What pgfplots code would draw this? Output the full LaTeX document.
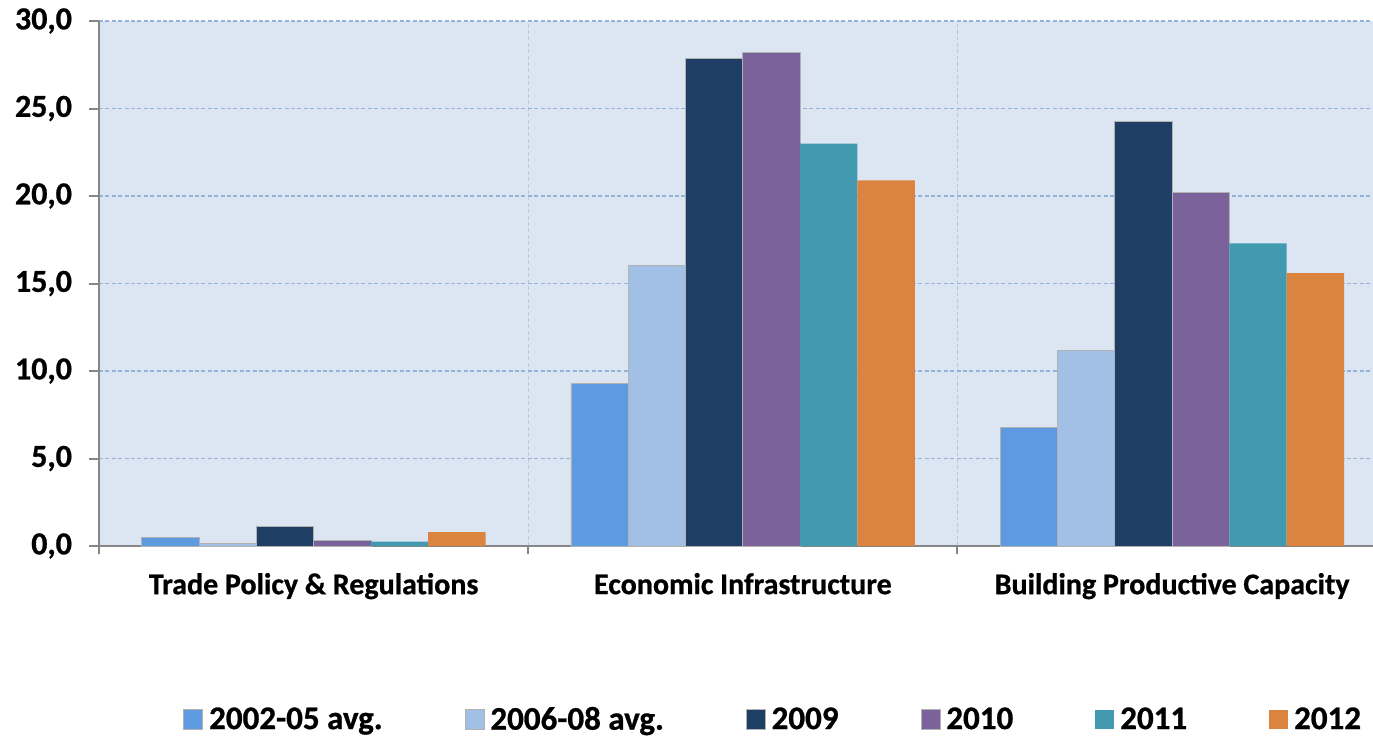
\documentclass[border=0pt]{standalone}
\usepackage{pgfplots}
\pgfplotsset{compat=1.18}
\usepackage{fontspec}
\setmainfont{Carlito}[BoldFeatures={FakeBold=0.8}]
\definecolor{cA}{HTML}{5E9AE0}
\definecolor{cB}{HTML}{A2C0E6}
\definecolor{cC}{HTML}{1F3E66}
\definecolor{cD}{HTML}{7B629A}
\definecolor{cE}{HTML}{4399B0}
\definecolor{cF}{HTML}{DB843F}
\definecolor{bg}{HTML}{DCE6F2}
\definecolor{gridc}{HTML}{95B3D7}
\definecolor{vgridc}{HTML}{B4C9E4}
\definecolor{axc}{HTML}{868686}
\begin{document}
\begin{tikzpicture}
\begin{axis}[
  name=ax,
  at={(0,0)}, anchor=south west,
  scale only axis,
  width=637pt, height=262.5pt,
  xmin=-0.5, xmax=2.468,
  ymin=0, ymax=30,
  axis background/.style={fill=bg},
  axis x line*=bottom, axis y line*=left,
  axis line style={color=axc, line width=1pt},
  ybar=0pt, bar width=0.1335,
  ytick={0,5,...,30},
  xtick={0,1,2},
  xticklabels={Trade Policy \& Regulations, Economic Infrastructure, Building Productive Capacity},
  minor xtick={-0.5,0.5,1.5},
  major x tick style={draw=none},
  minor x tick style={color=axc, line width=1pt},
  minor tick length=4pt,
  tick align=outside,
  major tick length=5pt,
  y tick style={color=axc, line width=1pt},
  ymajorgrids=true, xminorgrids=true,
  major grid style={dashed, dash pattern=on 2pt off 1.2pt, color=gridc, line width=0.6pt},
  minor grid style={dashed, dash pattern=on 2pt off 1.2pt, color=vgridc, line width=0.6pt},
  /pgf/number format/.cd, fixed, fixed zerofill, precision=1, use comma, assume math mode=true,
  /pgfplots/.cd,
  yticklabel style={font=\fontsize{16}{19}\selectfont\bfseries, xshift=-5pt},
  xticklabel style={font=\fontsize{15}{18}\selectfont\bfseries, yshift=-5pt},
  legend columns=6,
  legend style={at={(0.0659,-0.331)}, anchor=west, draw=none, fill=none, inner sep=0pt,
    font=\fontsize{16.5}{19}\selectfont\bfseries,
    /tikz/every even column/.append style={column sep=39pt},
    /tikz/every odd column/.append style={column sep=1pt}},
  legend image code/.code={\fill[#1] (0pt,-4.7pt) rectangle (9.5pt,5pt);},
  clip=false,
]
\addplot[fill=cA, draw=gray!60, line width=0.4pt] coordinates {(0,0.5) (1,9.3) (2,6.75)};
\addplot[fill=cB, draw=gray!60, line width=0.4pt] coordinates {(0,0.15) (1,16.05) (2,11.2)};
\addplot[fill=cC, draw=gray!60, line width=0.4pt] coordinates {(0,1.1) (1,27.85) (2,24.25)};
\addplot[fill=cD, draw=gray!60, line width=0.4pt] coordinates {(0,0.3) (1,28.2) (2,20.2)};
\addplot[fill=cE, draw=none] coordinates {(0,0.25) (1,23.0) (2,17.3)};
\addplot[fill=cF, draw=none] coordinates {(0,0.8) (1,20.9) (2,15.6)};
\legend{2002-05 avg.,2006-08 avg.,2009,2010,2011,2012}
\end{axis}
\pgfresetboundingbox
\path[use as bounding box] (-49.5pt,-95pt) rectangle (637pt,273pt);
\end{tikzpicture}
\end{document}
